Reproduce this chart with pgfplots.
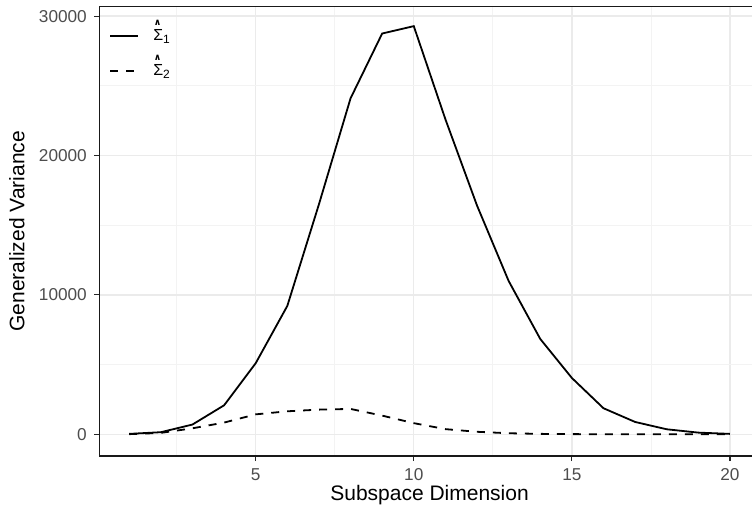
\documentclass[border=0pt]{standalone}
\usepackage{pgfplots}
\pgfplotsset{compat=1.18}
\usepackage{fontspec}
\setmainfont{Liberation Sans}
\newfontfamily\symfont{DejaVu Sans}
\definecolor{gridmaj}{HTML}{EBEBEB}
\definecolor{gridmin}{HTML}{F3F3F3}
\definecolor{tickcol}{HTML}{4D4D4D}
\newcommand{\hatsig}[1]{\hspace{5pt}\makebox[0pt][l]{\raisebox{7.4pt}[0pt][0pt]{\makebox[0.55em]{\symfont\bfseries\fontsize{4.6}{4.6}\selectfont ∧}}}Σ\textsubscript{#1}}
\begin{document}
\begin{tikzpicture}
\path[use as bounding box, clip] (-49.6pt,-27pt) rectangle (326.4pt,228pt);
\begin{axis}[
  at={(0,0)}, anchor=south west,
  scale only axis, width=330.4pt, height=224.75pt,
  xmin=0.05, xmax=20.95, ymin=-1557, ymax=30689,
  xtick={5,10,15,20}, minor xtick={2.5,7.5,12.5,17.5},
  ytick={0,10000,20000,30000}, minor ytick={5000,15000,25000},
  scaled y ticks=false,
  grid=both,
  major grid style={gridmaj, line width=0.65pt},
  minor grid style={gridmin, line width=0.35pt},
  tick align=outside, tick pos=left,
  major tick length=2.5pt, minor tick length=0pt,
  every tick/.style={black!85, line width=0.55pt},
  axis line style={black!90, line width=0.6pt},
  /pgf/number format/1000 sep={},
  /pgf/number format/assume math mode=true,
  tick label style={font=\fontsize{8.6}{10}\selectfont, text=tickcol},
  xticklabel style={inner sep=0pt, anchor=north, yshift=-3.5pt},
  yticklabel style={inner sep=0pt, anchor=east, xshift=-3.5pt},
  xlabel={Subspace Dimension},
  ylabel={Generalized Variance},
  label style={font=\fontsize{10.5}{12}\selectfont},
  xlabel style={at={(axis description cs:0.5,-0.0868)}, anchor=center},
  ylabel style={at={(axis description cs:-0.1244,0.5)}, anchor=center, rotate=0},
  legend style={at={(axis description cs:0.015,0.959)}, anchor=north west, draw=none, fill=none,
    font=\fontsize{8}{9.5}\selectfont, row sep=6.5pt, inner sep=0pt},
  legend cell align=left,
  legend image code/.code={\draw[#1] (0pt,0pt) -- (14pt,0pt);},
]
\addplot[black, line width=0.9pt] coordinates {
(1,30) (2,150) (3,700) (4,2080) (5,5100) (6,9210) (7,16500) (8,24100) (9,28750) (10,29280)
(11,22600) (12,16410) (13,11000) (14,6840) (15,4040) (16,1870) (17,885) (18,360) (19,120) (20,30)};
\addlegendentry{\hatsig{1}}
\addplot[black, line width=0.9pt, dash pattern=on 4pt off 4pt] coordinates {
(1,10) (2,100) (3,430) (4,840) (5,1430) (6,1650) (7,1770) (8,1820) (9,1340) (10,800)
(11,370) (12,180) (13,75) (14,30) (15,12) (16,5) (17,2) (18,1) (19,0) (20,0)};
\addlegendentry{\hatsig{2}}
\end{axis}
\end{tikzpicture}
\end{document}
